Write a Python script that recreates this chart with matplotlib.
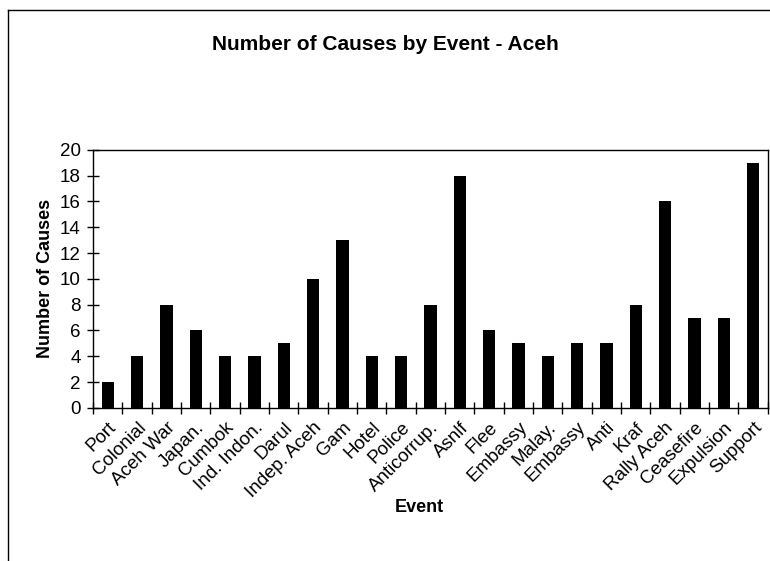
import numpy as np
import matplotlib.pyplot as plt
from matplotlib.lines import Line2D

events = ['Port', 'Colonial', 'Aceh War', 'Japan.', 'Cumbok', 'Ind. Indon.', 'Darul',
          'Indep. Aceh', 'Gam', 'Hotel', 'Police', 'Anticorrup.', 'Asnlf', 'Flee',
          'Embassy', 'Malay.', 'Embassy', 'Anti', 'Kraf', 'Rally Aceh', 'Ceasefire',
          'Expulsion', 'Support']
causes = [2, 4, 8, 6, 4, 4, 5, 10, 13, 4, 4, 8, 18, 6, 5, 4, 5, 5, 8, 16, 7, 7, 19]

plt.rcParams['font.family'] = ['Liberation Sans', 'DejaVu Sans']

fig = plt.figure(figsize=(7.7, 5.61), dpi=100)
ax = fig.add_axes([0.121, 0.273, 0.876, 0.46])

x = np.arange(len(events))
ax.bar(x, causes, width=0.42, color='black')

ax.set_xlim(-0.5, len(events) - 0.5)
ax.set_ylim(0, 20)
ax.set_yticks(np.arange(0, 21, 2))
ax.tick_params(axis='y', direction='inout', length=8, width=1, labelsize=13.5, pad=5)

# category ticks sit between the bars
ax.set_xticks(x)
ax.set_xticklabels(events, rotation=45, ha='right', rotation_mode='anchor', fontsize=13.5)
ax.tick_params(axis='x', which='major', length=0, pad=8)
ax.set_xticks(np.arange(-0.5, len(events)), minor=True)
ax.tick_params(axis='x', which='minor', direction='inout', length=8, width=1)

for s in ax.spines.values():
    s.set_linewidth(1)

fig.text(0.5, 0.92, 'Number of Causes by Event - Aceh', fontsize=15, fontweight='bold',
         ha='center', va='center')
ax.set_ylabel('Number of Causes', fontsize=13, fontweight='bold')
ax.yaxis.set_label_coords(-0.058, 0.5)
ax.set_xlabel('Event', fontsize=13, fontweight='bold')
ax.xaxis.set_label_coords(0.483, -0.355)

# outer chart frame
fig.add_artist(Line2D([0.0104, 1.0], [0.982, 0.982], color='black', lw=1))
fig.add_artist(Line2D([0.0104, 0.0104], [0.0, 0.982], color='black', lw=1))

fig.savefig('out.png', dpi=100)
